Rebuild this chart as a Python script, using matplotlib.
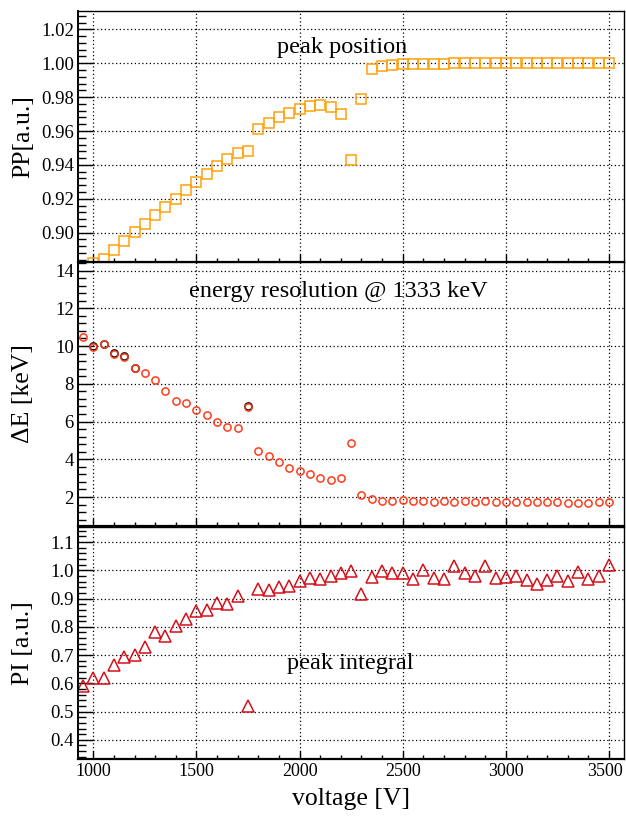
import matplotlib
matplotlib.use("Agg")
import matplotlib.pyplot as plt
import matplotlib.transforms as mtransforms
from matplotlib.ticker import MultipleLocator

plt.rcParams['font.family'] = ['Liberation Serif', 'DejaVu Serif']

# voltages
volts = [950, 1000, 1050, 1100, 1150, 1200, 1250, 1300, 1350, 1400, 1450, 1500,
         1550, 1600, 1650, 1700, 1750, 1800, 1850, 1900, 1950, 2000, 2050, 2100,
         2150, 2200, 2250, 2300, 2350, 2400, 2450, 2500, 2550, 2600, 2650, 2700,
         2750, 2800, 2850, 2900, 2950, 3000, 3050, 3100, 3150, 3200, 3250, 3300,
         3350, 3400, 3450, 3500]

# peak position (first two points are below the axis range)
pp = [0.8800, 0.8820, 0.8845, 0.8898, 0.8953, 0.9002, 0.9051, 0.9103, 0.9150, 0.9200,
      0.9252, 0.9300, 0.9346, 0.9393, 0.9434, 0.9468, 0.9480, 0.9612, 0.9649,
      0.9681, 0.9708, 0.9732, 0.9748, 0.9754, 0.9744, 0.9701, 0.9430, 0.9787,
      0.9966, 0.9984, 0.9988, 0.9994, 0.9996, 0.9996, 0.9996, 0.9996, 1.0000,
      1.0000, 1.0000, 1.0002, 1.0002, 1.0001, 1.0002, 1.0002, 1.0001, 1.0002,
      1.0002, 1.0001, 1.0002, 1.0002, 1.0002, 1.0002]

# energy resolution
de = [10.50, 9.95, 10.09, 9.57, 9.44, 8.81, 8.56, 8.18, 7.63, 7.10, 7.00, 6.61,
      6.33, 5.99, 5.69, 5.64, 6.79, 4.46, 4.18, 3.86, 3.55, 3.37, 3.20, 3.02,
      2.91, 3.00, 4.88, 2.09, 1.89, 1.81, 1.81, 1.84, 1.77, 1.77, 1.72, 1.79,
      1.75, 1.77, 1.75, 1.77, 1.75, 1.72, 1.72, 1.72, 1.75, 1.75, 1.75, 1.70,
      1.70, 1.70, 1.75, 1.72]
# second (black) graph, only visible at a few points
de2_volts = [1000, 1050, 1100, 1150, 1200, 1750]
de2 = [9.99, 10.13, 9.61, 9.48, 8.85, 6.83]

# peak integral
pi = [0.592, 0.618, 0.618, 0.665, 0.692, 0.700, 0.727, 0.781, 0.768, 0.802,
      0.826, 0.856, 0.859, 0.886, 0.882, 0.908, 0.521, 0.933, 0.930, 0.942,
      0.945, 0.961, 0.974, 0.968, 0.979, 0.992, 0.996, 0.915, 0.976, 0.999,
      0.991, 0.991, 0.968, 1.002, 0.972, 0.969, 1.014, 0.991, 0.981, 1.016,
      0.972, 0.975, 0.981, 0.967, 0.952, 0.966, 0.981, 0.961, 0.993, 0.971,
      0.979, 1.018]

fig = plt.figure(figsize=(6.26, 8.18), dpi=100)
L, W = 0.1246, 0.8727
ax1 = fig.add_axes([L, 0.6797, W, 0.3072])
ax2 = fig.add_axes([L, 0.3573, W, 0.3224])
ax3 = fig.add_axes([L, 0.0721, W, 0.2842])

ax1.plot(volts, pp, ls='none', marker='s', ms=7.5, mfc='none', mec='#ffa10a', mew=1.1)
ax2.plot(de2_volts, de2, ls='none', marker='o', ms=5.2, mfc='none', mec='black', mew=1.1)
ax2.plot(volts, de, ls='none', marker='o', ms=5.2, mfc='none', mec='#ff3b1a', mew=1.1)
ax3.plot(volts, pi, ls='none', marker='^', ms=8, mfc='none', mec='#d4101a', mew=1.1)

ax1.set_ylim(0.8827, 1.031)
ax2.set_ylim(0.48, 14.45)
ax3.set_ylim(0.332, 1.155)

ax1.yaxis.set_major_locator(MultipleLocator(0.02))
ax1.yaxis.set_minor_locator(MultipleLocator(0.004))
ax1.yaxis.set_major_formatter(plt.FormatStrFormatter('%.2f'))
ax2.yaxis.set_major_locator(MultipleLocator(2))
ax2.yaxis.set_minor_locator(MultipleLocator(0.4))
ax3.yaxis.set_major_locator(MultipleLocator(0.1))
ax3.yaxis.set_minor_locator(MultipleLocator(0.02))
ax3.yaxis.set_major_formatter(plt.FormatStrFormatter('%.1f'))

for ax in [ax1, ax2, ax3]:
    ax.set_xlim(926, 3574)
    ax.xaxis.set_major_locator(MultipleLocator(500))
    ax.xaxis.set_minor_locator(MultipleLocator(100))
    ax.grid(True, which='major', color='black', ls=(0, (1, 2)), lw=0.9)
    ax.tick_params(which='major', direction='in', length=11, width=1, labelsize=13.5, pad=3)
    ax.tick_params(which='minor', direction='in', length=6, width=1)
    ax.tick_params(axis='x', which='major', length=6, labelsize=13)
    ax.tick_params(axis='x', which='minor', length=3)
    for s in ax.spines.values():
        s.set_linewidth(1.0)
    ax.spines['bottom'].set_linewidth(1.6)
    ax.spines['left'].set_linewidth(1.4)
    ax.yaxis.set_label_coords(-0.08, 0.5)

ax1.tick_params(axis='x', labelbottom=False)
ax2.tick_params(axis='x', labelbottom=False)

# keep the last x label inside the figure
fig.canvas.draw()
last = ax3.get_xticklabels()[-1]
for lab in ax3.get_xticklabels():
    if lab.get_text() == '3500':
        lab.set_transform(lab.get_transform() +
                          mtransforms.ScaledTranslation(-4 / 100, 0, fig.dpi_scale_trans))

ax1.set_ylabel('PP[a.u.]', fontsize=18.5)
ax2.set_ylabel('ΔE [keV]', fontsize=18.5)
ax3.set_ylabel('PI [a.u.]', fontsize=18.5)
ax3.set_xlabel('voltage [V]', fontsize=18.5)
ax3.xaxis.set_label_coords(0.5, -0.125)

ax1.text(0.4835, 0.855, 'peak position', transform=ax1.transAxes, fontsize=17.5, ha='center', va='center')
ax2.text(0.476, 0.888, 'energy resolution @ 1333 keV', transform=ax2.transAxes, fontsize=17.5, ha='center', va='center')
ax3.text(0.498, 0.41, 'peak integral', transform=ax3.transAxes, fontsize=17.5, ha='center', va='center')

fig.savefig('out.png', dpi=100)
